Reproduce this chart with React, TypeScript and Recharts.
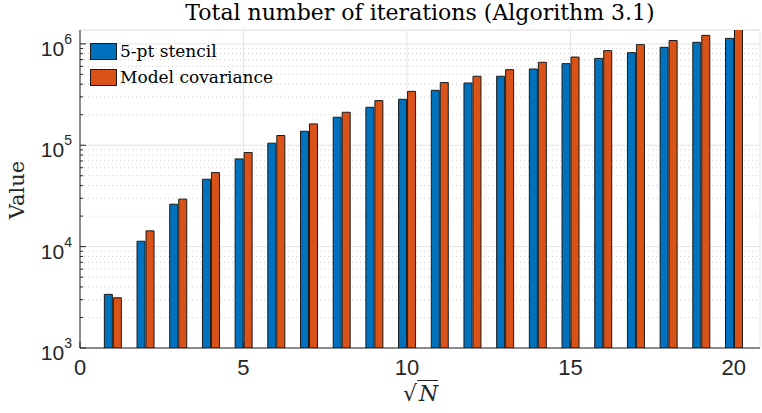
import React from "react";
import {
  BarChart,
  Bar,
  XAxis,
  YAxis,
  CartesianGrid,
} from "recharts";

// sqrt(N) values on the x axis
const sqrtN = [1, 2, 3, 4, 5, 6, 7, 8, 9, 10, 11, 12, 13, 14, 15, 16, 17, 18, 19, 20];

// total iterations
const stencil = [
  3380, 11300, 26200, 46200, 73300, 104800, 137400, 188800, 236800, 284000,
  348000, 411000, 479000, 565000, 638000, 719000, 819000, 924000, 1036000, 1133000,
];
const covariance = [
  3130, 14300, 29400, 53800, 84700, 124700, 162300, 211500, 275600, 340000,
  415000, 479000, 557000, 658000, 741000, 857000, 982000, 1080000, 1213000, 1400000,
];

const seriesNames = ["5-pt stencil", "Model covariance"];
const seriesColors = ["#0072BD", "#D95319"];

const xTicks = [0, 5, 10, 15, 20];
const majorY = [1000, 10000, 100000, 1000000];
const minorY = [
  2000, 3000, 4000, 5000, 6000, 7000, 8000, 9000,
  20000, 30000, 40000, 50000, 60000, 70000, 80000, 90000,
  200000, 300000, 400000, 500000, 600000, 700000, 800000, 900000,
];
const allY = [...majorY, ...minorY];

const data = sqrtN.map((n, i) => ({
  n,
  stencil: stencil[i],
  covariance: covariance[i],
}));

const AXIS = "#262626";
const TICK_FONT = "'Liberation Sans', Arial, sans-serif";
const SERIF = "'DejaVu Serif', serif";
const Y_DOMAIN = [1000, 1370000];

const exponent: Record<number, string> = { 1000: "3", 10000: "4", 100000: "5", 1000000: "6" };

// left y ticks: inward mark plus 10^k label
const LeftTick = (props: any) => {
  const { x, y, payload } = props;
  const major = exponent[payload.value] !== undefined;
  return (
    <g>
      <line x1={x} x2={x + (major ? 6 : 3)} y1={y} y2={y} stroke={AXIS} />
      {major && (
        <text x={x - 8} y={y + 12} textAnchor="end" fill={AXIS} fontFamily={TICK_FONT} fontSize={21}>
          10
          <tspan dy={-12} fontSize={14}>{exponent[payload.value]}</tspan>
        </text>
      )}
    </g>
  );
};

const RightTick = (props: any) => {
  const { x, y, payload } = props;
  const major = exponent[payload.value] !== undefined;
  return <line x1={x - (major ? 6 : 3)} x2={x} y1={y} y2={y} stroke={AXIS} />;
};

const BottomTick = (props: any) => {
  const { x, y, payload } = props;
  return (
    <g>
      <line x1={x} x2={x} y1={y - 6} y2={y} stroke={AXIS} />
      <text x={x} y={y + 27} textAnchor="middle" fill={AXIS} fontFamily={TICK_FONT} fontSize={22}>
        {payload.value}
      </text>
    </g>
  );
};

const TopTick = (props: any) => {
  const { x, y } = props;
  return <line x1={x} x2={x} y1={y} y2={y + 6} stroke={AXIS} />;
};

export default function App() {
  return (
    <div style={{ position: "absolute", left: 0, top: 0, width: 762, height: 413, background: "#fff" }}>
      <BarChart
        width={762}
        height={413}
        data={data}
        margin={{ top: 30, right: 2, bottom: 0, left: 0 }}
        barSize={8}
        barGap={1}
      >
        <XAxis
          dataKey="n"
          type="number"
          domain={[0, 20.8]}
          ticks={xTicks}
          interval={0}
          height={65}
          tickSize={0}
          tickMargin={0}
          tickLine={false}
          tick={<BottomTick />}
          axisLine={{ stroke: AXIS }}
          allowDataOverflow
        />
        <XAxis
          xAxisId="top"
          dataKey="n"
          type="number"
          orientation="top"
          domain={[0, 20.8]}
          ticks={xTicks}
          interval={0}
          height={0}
          tickSize={0}
          tickMargin={0}
          tickLine={false}
          tick={<TopTick />}
          axisLine={{ stroke: AXIS }}
          allowDataOverflow
        />
        <YAxis
          yAxisId="y"
          scale="log"
          domain={Y_DOMAIN}
          ticks={allY}
          interval={0}
          width={80}
          tickSize={0}
          tickMargin={0}
          tickLine={false}
          tick={<LeftTick />}
          axisLine={{ stroke: AXIS }}
          allowDataOverflow
        />
        <YAxis
          yAxisId="yr"
          orientation="right"
          scale="log"
          domain={Y_DOMAIN}
          ticks={allY}
          interval={0}
          width={0}
          tickSize={0}
          tickMargin={0}
          tickLine={false}
          tick={<RightTick />}
          axisLine={{ stroke: AXIS }}
          allowDataOverflow
        />
        <YAxis yAxisId="gmaj" hide width={0} orientation="right" scale="log" domain={Y_DOMAIN} ticks={majorY} interval={0} allowDataOverflow />
        <YAxis yAxisId="gmin" hide width={0} orientation="right" scale="log" domain={Y_DOMAIN} ticks={minorY} interval={0} allowDataOverflow />
        <CartesianGrid yAxisId="gmin" vertical={false} stroke="#cfcfcf" strokeDasharray="1 3" />
        <CartesianGrid yAxisId="gmaj" stroke="#e3e3e3" />
        <Bar
          yAxisId="y"
          dataKey="stencil"
          name={seriesNames[0]}
          fill={seriesColors[0]}
          stroke="#1a1a1a"
          strokeWidth={1}
          isAnimationActive={false}
        />
        <Bar
          yAxisId="y"
          dataKey="covariance"
          name={seriesNames[1]}
          fill={seriesColors[1]}
          stroke="#1a1a1a"
          strokeWidth={1}
          isAnimationActive={false}
        />
      </BarChart>
      {/* legend, no box, top-left inside the axes */}
      <div style={{ position: "absolute", left: 90, top: 38 }}>
        {seriesNames.map((name, i) => (
          <div key={name} style={{ display: "flex", alignItems: "center", height: 26 }}>
            <div
              style={{
                width: 27,
                height: 17,
                background: seriesColors[i],
                border: "1px solid #1a1a1a",
                boxSizing: "border-box",
                marginRight: 3,
              }}
            />
            <span style={{ fontFamily: SERIF, fontSize: 17, color: "#000" }}>{name}</span>
          </div>
        ))}
      </div>
      <div
        style={{
          position: "absolute",
          left: 80,
          width: 680,
          top: 0,
          textAlign: "center",
          fontFamily: SERIF,
          fontSize: 22,
          lineHeight: "25px",
          color: "#000",
        }}
      >
        Total number of iterations (Algorithm 3.1)
      </div>
      <div
        style={{
          position: "absolute",
          left: 17,
          top: 190,
          transform: "translate(-50%, -50%) rotate(-90deg)",
          fontFamily: SERIF,
          fontSize: 21,
          color: "#262626",
          whiteSpace: "nowrap",
        }}
      >
        Value
      </div>
      <div
        style={{
          position: "absolute",
          left: 403,
          top: 380,
          fontFamily: SERIF,
          fontSize: 22,
          color: "#262626",
          whiteSpace: "nowrap",
          lineHeight: "28px",
        }}
      >
        √<span style={{ fontStyle: "italic", borderTop: "1px solid #262626", paddingLeft: 2 }}>N</span>
      </div>
    </div>
  );
}
